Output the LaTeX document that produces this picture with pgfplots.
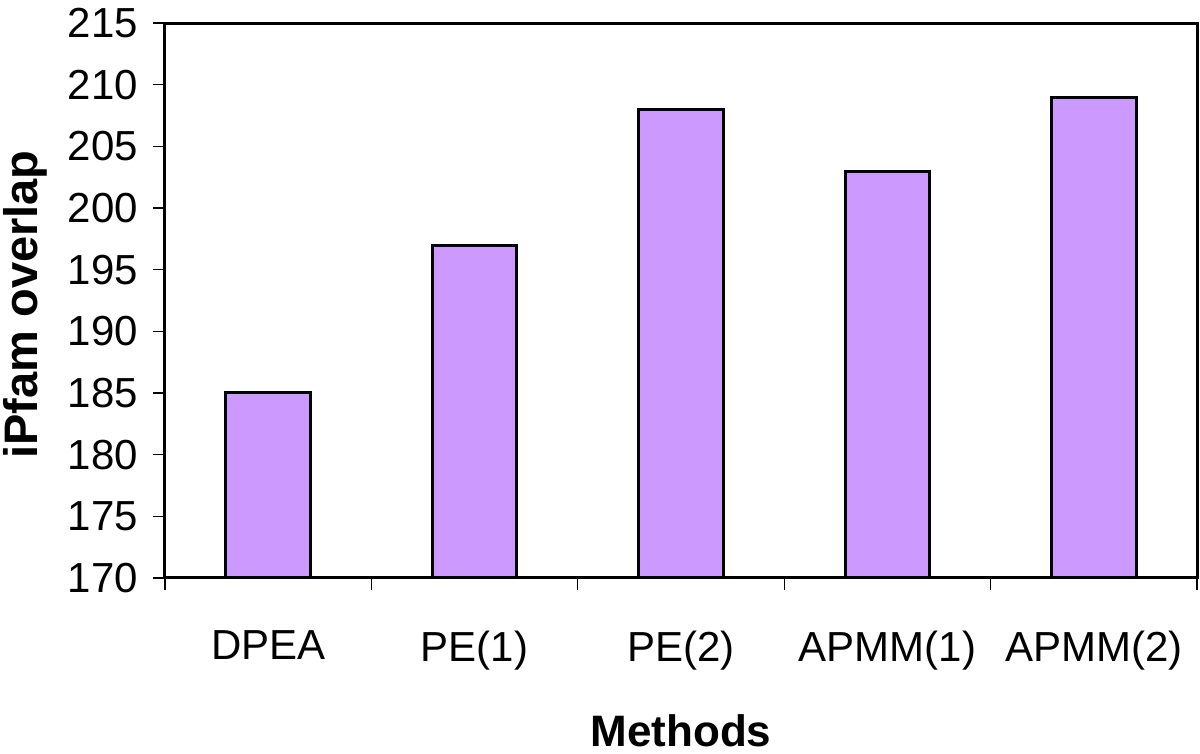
\documentclass[border=0pt]{standalone}
\usepackage{pgfplots}
\pgfplotsset{compat=1.18}
\usepackage{fontspec}
\setmainfont{Liberation Sans}
\definecolor{barviolet}{HTML}{CC99FF}
\begin{document}
\begin{tikzpicture}
\begin{axis}[
  scale only axis,
  width=516pt, height=277.5pt,
  xmin=-0.5, xmax=4.5,
  ymin=170, ymax=215,
  ytick={170,175,...,215},
  xtick={-0.5,0.5,1.5,2.5,3.5,4.5},
  xticklabels={,,,,,,},
  extra x ticks={0,1,2,3,4},
  extra x tick labels={DPEA,PE(1),PE(2),APMM(1),APMM(2)},
  extra x tick style={major tick length=0pt},
  tick align=outside,
  xtick pos=bottom, ytick pos=left,
  major tick length=6pt,
  tick style={black, line width=0.6pt},
  axis line style={line width=1.5pt},
  /pgf/number format/assume math mode=true,
  ticklabel style={font=\fontsize{21}{24}\selectfont},
  yticklabel style={xshift=-4pt},
  xticklabel style={yshift=-23pt},
  every axis y label/.style={at={(axis description cs:0,0.5)}, xshift=-70pt, yshift=-2pt, rotate=90, anchor=center, font=\fontsize{23.5}{28}\selectfont\bfseries},
  every axis x label/.style={at={(axis description cs:0.5,0)}, yshift=-76.5pt, anchor=center, font=\fontsize{22}{26}\selectfont\bfseries},
  ylabel={iPfam overlap},
  xlabel={Methods},
  ybar, bar width=0.41,
]
\addplot[fill=barviolet, draw=black, line width=1.5pt] coordinates {(0,185) (1,197) (2,208) (3,203) (4,209)};
\end{axis}
\pgfresetboundingbox
\path (-82.5pt,-88pt) rectangle (517.5pt,289pt);
\end{tikzpicture}
\end{document}
